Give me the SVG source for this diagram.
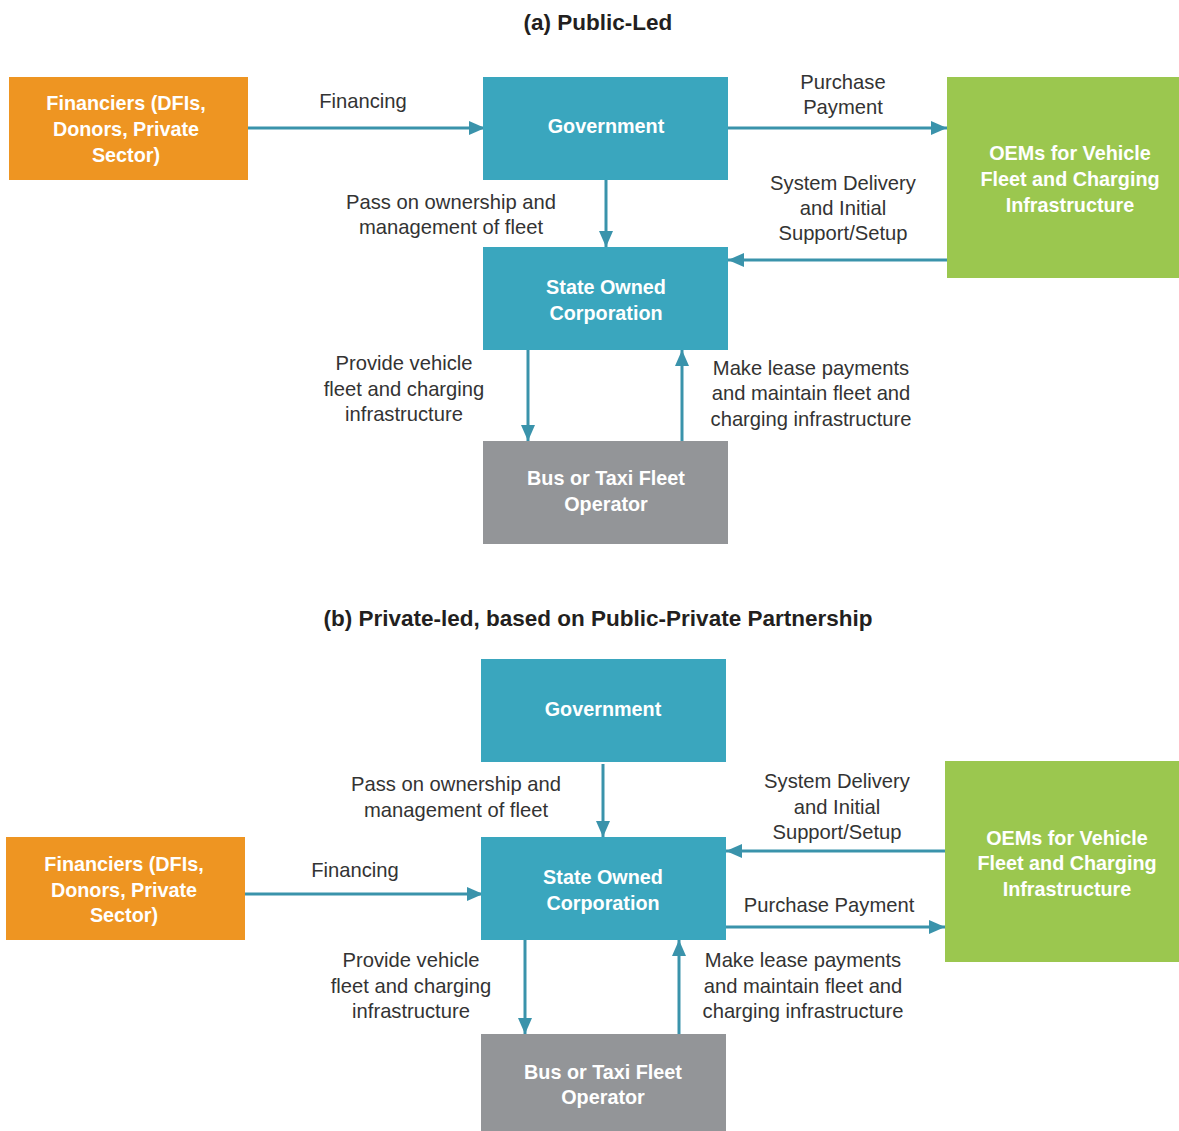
<svg xmlns="http://www.w3.org/2000/svg" width="1179" height="1131" viewBox="0 0 1179 1131">
<style>
.title{font-family:"Liberation Sans",Arial,sans-serif;font-weight:bold;font-size:22.5px;fill:#231f20;text-anchor:middle}
.nt{font-family:"Liberation Sans",Arial,sans-serif;font-weight:bold;font-size:19.8px;fill:#ffffff;text-anchor:middle}
.lb{font-family:"Liberation Sans",Arial,sans-serif;font-size:20.2px;fill:#333333;text-anchor:middle}
.teal{fill:#3aa6be}.orange{fill:#ee9522}.green{fill:#9bc74f}.gray{fill:#939598}
.c{stroke:#3a93ab;stroke-width:3;fill:none;marker-end:url(#ah)}
</style>
<defs>
<marker id="ah" markerUnits="userSpaceOnUse" markerWidth="16" markerHeight="14" refX="16" refY="7" orient="auto"><path d="M0,0 L16,7 L0,14 Z" fill="#3a93ab"/></marker>
</defs>
<rect width="1179" height="1131" fill="#ffffff"/>
<text class="title" x="598" y="30">(a) Public-Led</text>
<text class="title" x="598" y="626">(b) Private-led, based on Public-Private Partnership</text>

<g id="connectors">
<path class="c" d="M248,128 H485"/>
<path class="c" d="M728,128 H947"/>
<path class="c" d="M606,180 V247"/>
<path class="c" d="M947,260 H728"/>
<path class="c" d="M528,350 V441"/>
<path class="c" d="M682,441 V350"/>
<path class="c" d="M603,764 V837"/>
<path class="c" d="M945,851 H726"/>
<path class="c" d="M726,927 H945"/>
<path class="c" d="M245,894 H483"/>
<path class="c" d="M525,940 V1034"/>
<path class="c" d="M679,1034 V940"/>
</g>

<g id="labels">
<text class="lb" x="363" y="108">Financing</text>
<text class="lb" x="843" y="89">Purchase</text>
<text class="lb" x="843" y="114">Payment</text>
<text class="lb" x="451" y="209">Pass on ownership and</text>
<text class="lb" x="451" y="234">management of fleet</text>
<text class="lb" x="843" y="190">System Delivery</text>
<text class="lb" x="843" y="215">and Initial</text>
<text class="lb" x="843" y="240">Support/Setup</text>
<text class="lb" x="404" y="370">Provide vehicle</text>
<text class="lb" x="404" y="396">fleet and charging</text>
<text class="lb" x="404" y="421">infrastructure</text>
<text class="lb" x="811" y="375">Make lease payments</text>
<text class="lb" x="811" y="400">and maintain fleet and</text>
<text class="lb" x="811" y="426">charging infrastructure</text>

<text class="lb" x="456" y="791">Pass on ownership and</text>
<text class="lb" x="456" y="817">management of fleet</text>
<text class="lb" x="837" y="788">System Delivery</text>
<text class="lb" x="837" y="814">and Initial</text>
<text class="lb" x="837" y="839">Support/Setup</text>
<text class="lb" x="829" y="912">Purchase Payment</text>
<text class="lb" x="355" y="877">Financing</text>
<text class="lb" x="411" y="967">Provide vehicle</text>
<text class="lb" x="411" y="993">fleet and charging</text>
<text class="lb" x="411" y="1018">infrastructure</text>
<text class="lb" x="803" y="967">Make lease payments</text>
<text class="lb" x="803" y="993">and maintain fleet and</text>
<text class="lb" x="803" y="1018">charging infrastructure</text>
</g>

<g id="a-financiers"><rect class="orange" x="9" y="77" width="239" height="103"/>
<text class="nt" x="126" y="110">Financiers (DFIs,</text><text class="nt" x="126" y="136">Donors, Private</text><text class="nt" x="126" y="162">Sector)</text></g>
<g id="a-government"><rect class="teal" x="483" y="77" width="245" height="103"/>
<text class="nt" x="606" y="133">Government</text></g>
<g id="a-oems"><rect class="green" x="947" y="77" width="232" height="201"/>
<text class="nt" x="1070" y="160">OEMs for Vehicle</text><text class="nt" x="1070" y="186">Fleet and Charging</text><text class="nt" x="1070" y="212">Infrastructure</text></g>
<g id="a-soc"><rect class="teal" x="483" y="247" width="245" height="103"/>
<text class="nt" x="606" y="294">State Owned</text><text class="nt" x="606" y="320">Corporation</text></g>
<g id="a-bus"><rect class="gray" x="483" y="441" width="245" height="103"/>
<text class="nt" x="606" y="485">Bus or Taxi Fleet</text><text class="nt" x="606" y="511">Operator</text></g>

<g id="b-government"><rect class="teal" x="481" y="659" width="245" height="103"/>
<text class="nt" x="603" y="716">Government</text></g>
<g id="b-financiers"><rect class="orange" x="6" y="837" width="239" height="103"/>
<text class="nt" x="124" y="871">Financiers (DFIs,</text><text class="nt" x="124" y="897">Donors, Private</text><text class="nt" x="124" y="922">Sector)</text></g>
<g id="b-soc"><rect class="teal" x="481" y="837" width="245" height="103"/>
<text class="nt" x="603" y="884">State Owned</text><text class="nt" x="603" y="910">Corporation</text></g>
<g id="b-oems"><rect class="green" x="945" y="761" width="234" height="201"/>
<text class="nt" x="1067" y="845">OEMs for Vehicle</text><text class="nt" x="1067" y="870">Fleet and Charging</text><text class="nt" x="1067" y="896">Infrastructure</text></g>
<g id="b-bus"><rect class="gray" x="481" y="1034" width="245" height="97"/>
<text class="nt" x="603" y="1079">Bus or Taxi Fleet</text><text class="nt" x="603" y="1104">Operator</text></g>
</svg>
